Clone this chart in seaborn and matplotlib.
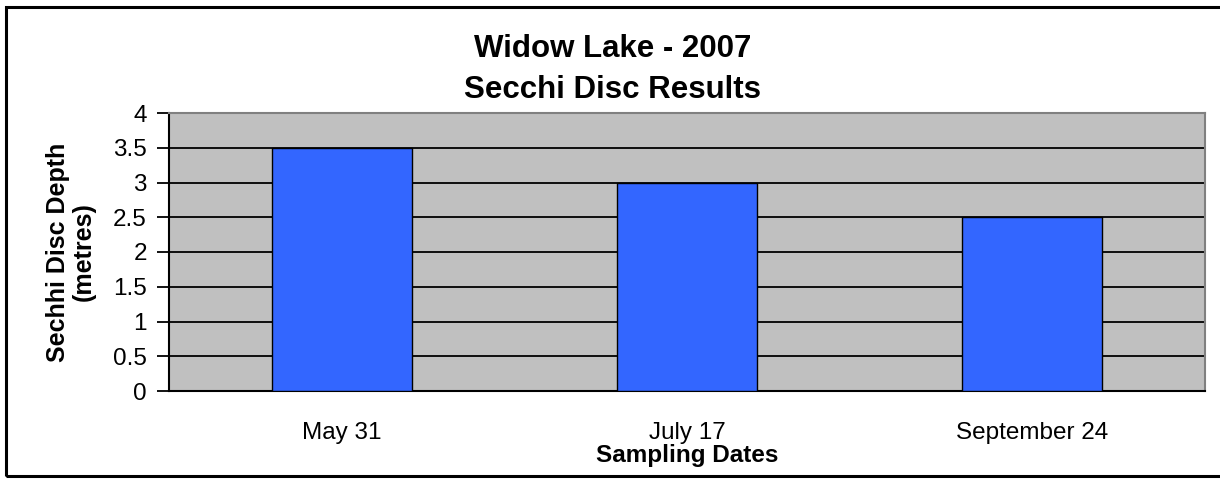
import pandas as pd
import matplotlib.pyplot as plt
import seaborn as sns
from matplotlib.patches import Rectangle

# Secchi disc readings, Widow Lake 2007
dates = ["May 31", "July 17", "September 24"]
depths = [3.5, 3.0, 2.5]
y_ticks = [0, 0.5, 1, 1.5, 2, 2.5, 3, 3.5, 4]
y_tick_labels = ["0", "0.5", "1", "1.5", "2", "2.5", "3", "3.5", "4"]
title_lines = ["Widow Lake - 2007", "Secchi Disc Results"]

df = pd.DataFrame({"Sampling Dates": dates, "Depth": depths})

sns.set_style("white")
plt.rcParams["font.family"] = ["Liberation Sans", "DejaVu Sans"]
plt.rcParams["text.color"] = "black"
plt.rcParams["axes.labelcolor"] = "black"
plt.rcParams["xtick.color"] = "black"
plt.rcParams["ytick.color"] = "black"

fig = plt.figure(figsize=(12.2, 4.79), dpi=100)
ax = fig.add_axes([169 / 1220, 1 - 391 / 479, (1205 - 169) / 1220, (391 - 113) / 479])

sns.barplot(data=df, x="Sampling Dates", y="Depth", color="#3366FF", width=0.406,
            edgecolor="black", linewidth=1, saturation=1, ax=ax, zorder=3)

ax.set_facecolor("#C0C0C0")
ax.set_xlim(-0.5, 2.5)
ax.set_ylim(0, 4)
ax.set_yticks(y_ticks)
ax.set_yticklabels(y_tick_labels, fontsize=17.5)
ax.yaxis.grid(True, color="black", linewidth=1.3, zorder=1)
ax.set_axisbelow(True)

# category labels without marks, tick marks on the boundaries
ax.set_xticks(range(len(dates)))
ax.set_xticklabels(dates, fontsize=17.5)
ax.tick_params(axis="x", which="major", length=0, pad=22)
ax.set_xticks([-0.5, 0.5, 1.5, 2.5], minor=True)
ax.tick_params(axis="x", which="minor", length=8, width=1.3, color="black", direction="out")
ax.tick_params(axis="y", length=9, width=1.3, color="black", direction="out", pad=7, left=True)

for side in ["left", "bottom"]:
    ax.spines[side].set_color("black")
    ax.spines[side].set_linewidth(1.5)
for side in ["top", "right"]:
    ax.spines[side].set_color("#808080")
    ax.spines[side].set_linewidth(1.5)

ax.set_xlabel("Sampling Dates", fontsize=17.5, fontweight="bold", labelpad=0)
ax.set_ylabel("Sechhi Disc Depth\n(metres)", fontsize=18, fontweight="bold",
              labelpad=12, linespacing=1.1)

fig.text(0.502, 1 - 49 / 479, title_lines[0], ha="center", va="center",
         fontsize=22.5, fontweight="bold")
fig.text(0.502, 1 - 90 / 479, title_lines[1], ha="center", va="center",
         fontsize=22.5, fontweight="bold")

# outer chart border (right edge runs off the picture)
fig.patches.append(Rectangle((6 / 1220, 1 - 476 / 479), 1.05, (476 - 7) / 479,
                             transform=fig.transFigure, fill=False,
                             edgecolor="black", linewidth=2.2))

fig.savefig("out.png", dpi=100)
